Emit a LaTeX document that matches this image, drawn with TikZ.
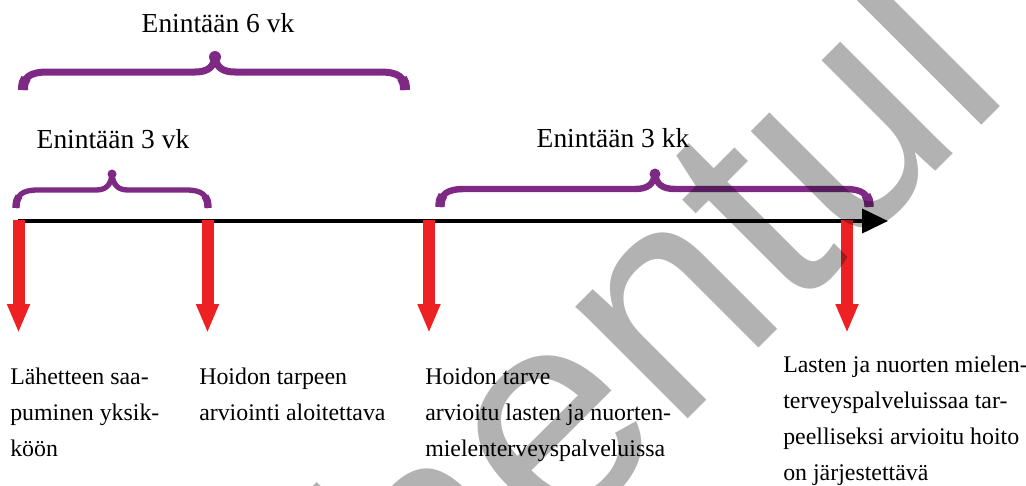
\documentclass[tikz,border=0pt]{standalone}
\usepackage{fontspec}
\setmainfont{Liberation Serif}
\newfontfamily\wmfont{Liberation Sans}
\usetikzlibrary{arrows.meta}
\definecolor{bracepurple}{RGB}{126,41,131}
\definecolor{markred}{RGB}{237,33,36}
\begin{document}
\begin{tikzpicture}[x=0.75pt,y=-0.75pt,
  span/.style={draw=bracepurple, line cap=butt, line join=round},
  spanknob/.style={fill=bracepurple},
  timeaxis/.style={line width=3pt, -{Triangle[length=19.5pt,width=18pt]}},
  deadline/.style={draw=markred, line width=9pt, -{Triangle[length=21.75pt,width=15.75pt]}},
  spanlabel/.style={font=\fontsize{20.6}{24}\selectfont, inner sep=0pt, anchor=base},
  steplabel/.style={font=\fontsize{17.9}{26.8}\selectfont, inner sep=0pt, anchor=base west, align=left},
  watermark/.style={font=\wmfont\fontsize{225}{225}\selectfont, text=black, text opacity=0.3,
    rotate=45, anchor=base west, inner sep=0pt},
]
\useasboundingbox (0,0) rectangle (1026,486);

% span braces: main stroke, heavier feet and a round knob at the middle
\draw[span, line width=5.25pt] (23,90) .. controls (23,77) and (30,72) .. (48,72)
  -- (195,72) .. controls (208,72) and (214,67) .. (215,56)
  .. controls (216,67) and (222,72) .. (235,72)
  -- (380,72) .. controls (398,72) and (405,77) .. (405,90);
\draw[span, line width=7.5pt] (23,90) .. controls (23,84) and (24,81) .. (26,78);
\draw[span, line width=7.5pt] (405,90) .. controls (405,84) and (404,81) .. (402,78);
\fill[spanknob] (215,57) circle (6);

\draw[span, line width=4pt] (16,208) .. controls (16,195) and (22,190) .. (38,190)
  -- (96,190) .. controls (106,190) and (111,185) .. (112,174)
  .. controls (113,185) and (118,190) .. (128,190)
  -- (186,190) .. controls (202,190) and (208,195) .. (208,208);
\draw[span, line width=5.5pt] (16,208) .. controls (16,202) and (17,199) .. (19,196);
\draw[span, line width=5.5pt] (208,208) .. controls (208,202) and (207,199) .. (205,196);
\fill[spanknob] (112,174) circle (4.5);

\draw[span, line width=4.8pt] (440,207) .. controls (440,194) and (447,189) .. (465,189)
  -- (635,189) .. controls (648,189) and (654,184) .. (655,173)
  .. controls (656,184) and (662,189) .. (675,189)
  -- (845,189) .. controls (862,189) and (869,194) .. (869,207);
\draw[span, line width=7pt] (440,207) .. controls (440,201) and (441,198) .. (443,195);
\draw[span, line width=7pt] (869,207) .. controls (869,201) and (868,198) .. (866,195);
\fill[spanknob] (655,174) circle (5.5);

\node[spanlabel] (l6vk) at (218,32) {Enintään 6 vk};
\node[spanlabel] (l3vk) at (113,148) {Enintään 3 vk};
\node[spanlabel] (l3kk) at (613,147) {Enintään 3 kk};

% time axis
\coordinate (axstart) at (18,221);
\coordinate (axend) at (888,221);
\draw[timeaxis] (axstart) -- (axend);

% deadline markers
\foreach \n/\x in {1/18.5, 2/207.5, 3/429, 4/847}{
  \coordinate (m\n) at (\x,220);
  \coordinate (m\n tip) at (\x,333);
  \draw[deadline] (m\n) -- (m\n tip);
}

% step descriptions (placed by the baseline of their last line)
\node[steplabel] (s1) at (10,456) {Lähetteen saa-\\puminen yksik-\\köön};
\node[steplabel] (s2) at (199,420.5) {Hoidon tarpeen\\arviointi aloitettava};
\node[steplabel] (s3) at (425,456) {Hoidon tarve\\arvioitu lasten ja nuorten-\\mielenterveyspalveluissa};
\node[steplabel] (s4) at (783,480)
  {Lasten ja nuorten mielen-\\terveyspalveluissaa tar-\\peelliseksi arvioitu hoito\\on järjestettävä};

% watermark
\begin{scope}
\clip (0,0) rectangle (1026,486);
\node[watermark] (wm) at (437,670) {hentul};
\end{scope}
\end{tikzpicture}
\end{document}
